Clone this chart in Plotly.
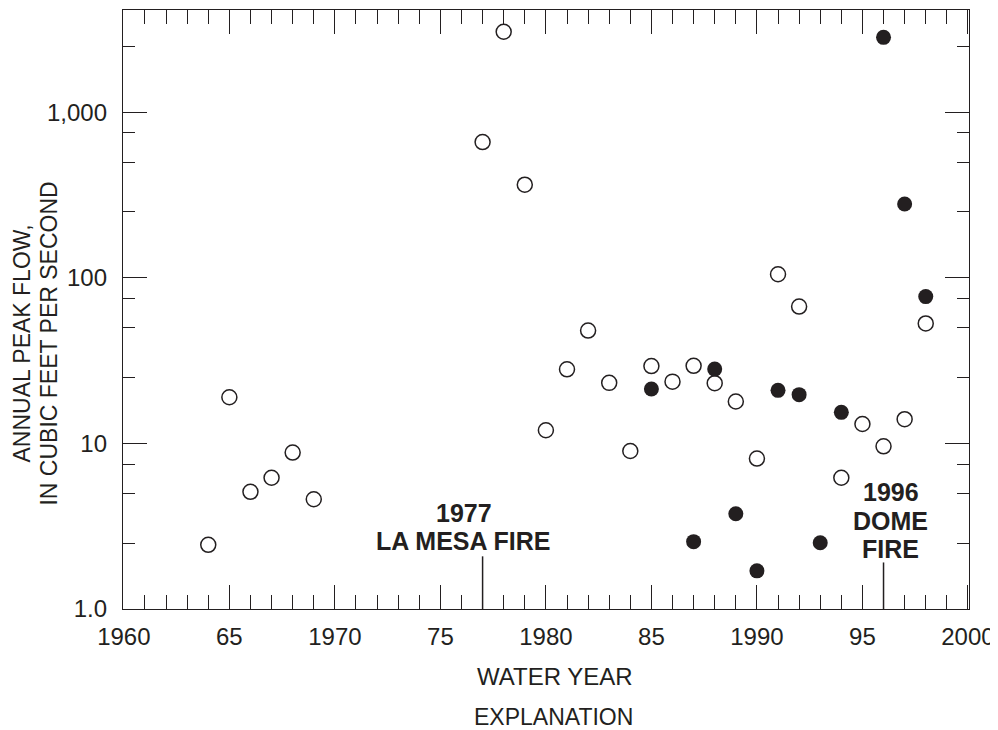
import plotly.graph_objects as go

# annual peak flow, cubic feet per second
open_years = [1964, 1965, 1966, 1967, 1968, 1969, 1977, 1978, 1979, 1980, 1981, 1982,
              1983, 1984, 1985, 1986, 1987, 1988, 1989, 1990, 1991, 1992, 1994, 1995,
              1996, 1997, 1998]
open_flow = [2.44, 19.0, 5.1, 6.2, 8.8, 4.6, 660, 3060, 365, 12.0, 28, 48,
             23.2, 9.0, 29.3, 23.6, 29.4, 23.1, 17.9, 8.1, 105, 67, 6.2, 13.1,
             9.6, 14.0, 53]

filled_years = [1985, 1987, 1988, 1989, 1990, 1991, 1992, 1993, 1994, 1996, 1997, 1998]
filled_flow = [21.3, 2.55, 28.1, 3.76, 1.70, 20.9, 19.7, 2.51, 15.4, 2830, 279, 77]

fire_years = [1977, 1996]
fire_marker_top = [2.08, 1.91]

x_major = [1960, 1965, 1970, 1975, 1980, 1985, 1990, 1995, 2000]
x_labels = ['1960', '65', '1970', '75', '1980', '85', '1990', '95', '2000']
x_minor = [y for y in range(1961, 2000) if y % 5 != 0]

y_major = [1, 10, 100, 1000]
y_labels = ['1.0', '10', '100', '1,000']
y_minor = [2.5, 5, 7.5, 25, 50, 75, 250, 500, 750, 2500]

INK = '#231f20'
FONT = 'Liberation Sans, Arial, sans-serif'

fig = go.Figure()

for yr, top in zip(fire_years, fire_marker_top):
    fig.add_trace(go.Scatter(x=[yr, yr], y=[1, top], mode='lines',
                             line=dict(color=INK, width=1.5), showlegend=False,
                             hoverinfo='skip'))

fig.add_trace(go.Scatter(
    x=open_years, y=open_flow, mode='markers', showlegend=False,
    marker=dict(symbol='circle-open', size=15, color=INK, line=dict(width=1.5, color=INK))
))
fig.add_trace(go.Scatter(
    x=filled_years, y=filled_flow, mode='markers', showlegend=False,
    marker=dict(symbol='circle', size=15, color=INK, line=dict(width=0))
))

axis_common = dict(
    showline=True, linecolor=INK, linewidth=1.3, mirror='ticks',
    ticks='inside', tickcolor=INK, tickwidth=1.3, ticklen=24,
    showgrid=False, zeroline=False, automargin=False,
    tickfont=dict(family=FONT, size=24, color=INK),
)

fig.update_xaxes(
    range=[1959.96, 2000.05], tickmode='array', tickvals=x_major, ticktext=x_labels,
    ticklabelstandoff=6,
    minor=dict(tickmode='array', tickvals=x_minor, ticks='inside', ticklen=14,
               tickwidth=1.3, tickcolor=INK, showgrid=False),
    **axis_common
)
fig.update_yaxes(
    type='log', range=[0, 3.617], tickmode='array', tickvals=y_major, ticktext=y_labels,
    ticklabelstandoff=10,
    minor=dict(tickmode='array', tickvals=y_minor, ticks='inside', ticklen=12,
               tickwidth=1.3, tickcolor=INK, showgrid=False),
    **axis_common
)

def note(text, x, y, bold=False, angle=0, size=24):
    fig.add_annotation(
        text=f'<b>{text}</b>' if bold else text, x=x, y=y, xref='paper', yref='paper',
        xanchor='center', yanchor='middle', showarrow=False, textangle=angle,
        font=dict(family=FONT, size=size, color=INK)
    )

note('1977', 0.4028, 0.1603, bold=True, size=25)
note('LA MESA FIRE', 0.4028, 0.1135, bold=True, size=25)
note('1996', 0.9078, 0.1953, bold=True, size=25)
note('DOME', 0.9078, 0.1469, bold=True, size=25)
note('FIRE', 0.9078, 0.1002, bold=True, size=25)

note('WATER YEAR', 0.5106, -0.1119)
note('EXPLANATION', 0.5092, -0.1803, size=23)

note('ANNUAL PEAK FLOW,', -0.1188, 0.444, angle=-90, size=23)
note('IN CUBIC FEET PER SECOND', -0.0869, 0.444, angle=-90, size=23)

# the page body keeps its default 8px margin, so the figure is shrunk by that much
fig.update_layout(
    width=990, height=722,
    margin=dict(l=115, r=29, t=2, b=121),
    paper_bgcolor='white', plot_bgcolor='white',
    font=dict(family=FONT, color=INK),
)

fig.write_html("out.html")
